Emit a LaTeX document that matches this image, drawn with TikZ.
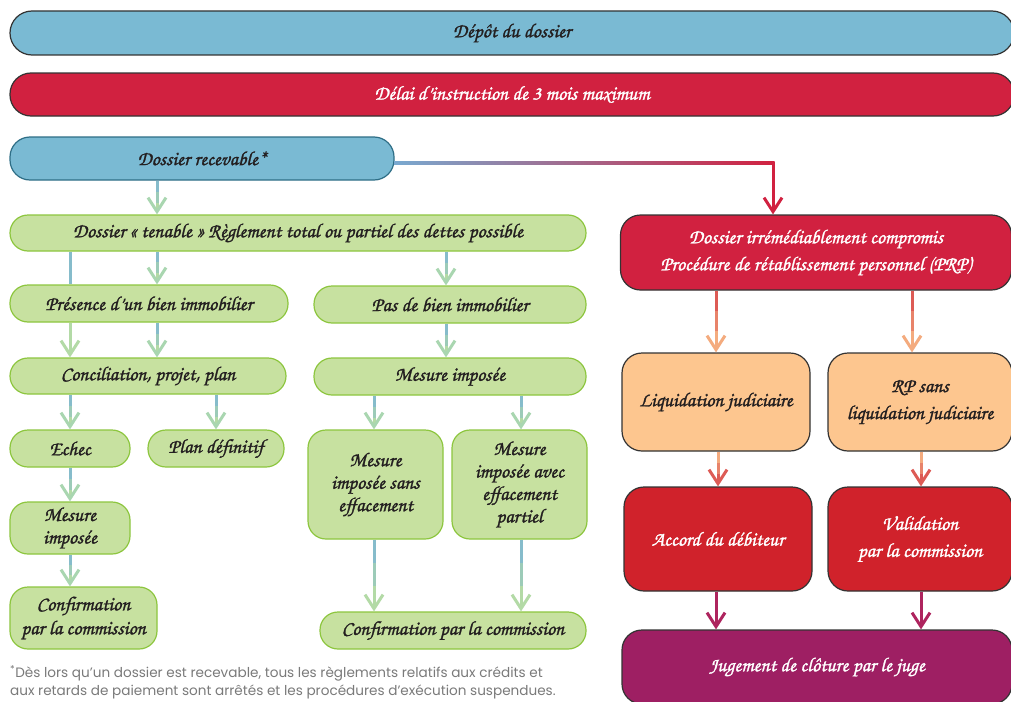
\documentclass[tikz,border=0pt]{standalone}
\usepackage{fontspec}
\setmainfont{texgyrechorus-mediumitalic.otf}[AutoFakeBold=1.3]
\newfontfamily\notefont{Poppins}
\usetikzlibrary{arrows.meta,calc}
\definecolor{ink}{HTML}{231F20}
\definecolor{bluefill}{HTML}{7ABAD3}
\definecolor{blueline}{HTML}{2E6E86}
\definecolor{redfill}{HTML}{D12140}
\definecolor{gfill}{HTML}{C7E1A0}
\definecolor{gline}{HTML}{8DC63F}
\definecolor{ofill}{HTML}{FDC68F}
\definecolor{rfill}{HTML}{D0222B}
\definecolor{pfill}{HTML}{9E1F63}
\definecolor{darkline}{HTML}{333333}
\definecolor{teal}{HTML}{86BCCB}
\definecolor{lgreen}{HTML}{B3DAA6}
\definecolor{hgreen}{HTML}{A9D6B0}
\definecolor{orred}{HTML}{DD5B55}
\definecolor{orlight}{HTML}{F4AB7E}
\definecolor{magarr}{HTML}{AE245E}
\definecolor{notegray}{HTML}{7A7A7A}
\tikzset{
  box/.style={rounded corners=18pt, line width=1.2pt, align=center, inner sep=2pt,
    font=\bfseries\fontsize{20}{22.5}\selectfont, text=ink},
  wide/.style={font=\bfseries\fontsize{20}{27}\selectfont},
  gbox/.style={box, fill=gfill, draw=gline},
  bbox/.style={box, fill=bluefill, draw=darkline},
  rbox/.style={box, fill=redfill, draw=darkline, text=white},
  obox/.style={box, fill=ofill, draw=darkline},
  r2box/.style={box, fill=rfill, draw=darkline, text=white},
  pbox/.style={box, fill=pfill, draw=darkline, text=white},
  shaft/.style={line width=3pt},
  tipv/.style={-{Straight Barb[length=14pt,width=18pt,color=#1]}},
}
\newcommand\fa[6]{%
  \coordinate (fs) at (#1,0 |- #2.south);
  \coordinate (ft) at (#1,0 |- #3.north);
  \draw[shaft,draw=#4] (fs) -- ($(fs)!0.36!(ft)$);
  \draw[shaft,draw=#4!50!#5] ($(fs)!0.33!(ft)$) -- ($(fs)!0.68!(ft)$);
  \draw[shaft,draw=#5,tipv=#6] ($(fs)!0.65!(ft)$) -- (ft);
}
\begin{document}
\begin{tikzpicture}[x=1pt,y=-1pt]
\path[use as bounding box, clip] (0,0) rectangle (1011,701);
\fill[white] (0,0) rectangle (1011,701);
% top bars
\node[bbox, rounded corners=22pt, minimum width=1004pt, minimum height=44pt] (depot) at (512,33) {Dépôt du dossier};
\node[rbox, rounded corners=21pt, minimum width=1004pt, minimum height=43pt, text=white] (delai) at (512,94.5) {Délai d’instruction de 3 mois maximum};
\node[box, fill=bluefill, draw=blueline, rounded corners=20pt, minimum width=384pt, minimum height=43pt] (rec) at (202,158.5) {Dossier recevable*};
% green branch
\node[gbox, minimum width=576pt, minimum height=36pt] (ten) at (298,233) {Dossier « tenable » Règlement total ou partiel des dettes possible};
\node[gbox, minimum width=278pt, minimum height=37pt] (pres) at (149,303.5) {Présence d’un bien immobilier};
\node[gbox, minimum width=272pt, minimum height=37pt] (pas) at (450,304.5) {Pas de bien immobilier};
\node[gbox, minimum width=276pt, minimum height=36pt] (conc) at (148,376) {Conciliation, projet, plan};
\node[gbox, minimum width=272pt, minimum height=37pt] (mes) at (450,376.5) {Mesure imposée};
\node[gbox, minimum width=120pt, minimum height=37pt] (echec) at (70,448.5) {Echec};
\node[gbox, minimum width=136pt, minimum height=37pt] (plan) at (216,448.5) {Plan définitif};
\node[gbox, minimum width=120pt, minimum height=52pt] (mes2) at (70,528) {Mesure\\imposée};
\node[gbox, minimum width=147pt, minimum height=62pt, font=\bfseries\fontsize{20}{24}\selectfont] (conf1) at (83.5,618) {Confirmation\\par la commission};
\node[gbox, minimum width=135pt, minimum height=109pt] (sans) at (375.5,484.5) {Mesure\\imposée sans\\effacement};
\node[gbox, minimum width=135pt, minimum height=109pt] (avec) at (519.5,484.5) {Mesure\\imposée avec\\effacement\\partiel};
\node[gbox, minimum width=266pt, minimum height=37pt] (conf2) at (453,630.5) {Confirmation par la commission};
% red branch
\node[rbox, wide, rounded corners=20pt, minimum width=391pt, minimum height=75pt] (prp) at (816,252.5) {Dossier irrémédiablement compromis\\Procédure de rétablissement personnel (PRP)};
\node[obox, rounded corners=20pt, minimum width=188pt, minimum height=98pt] (liq) at (716,402) {Liquidation judiciaire};
\node[obox, wide, rounded corners=20pt, minimum width=184pt, minimum height=98pt] (rps) at (920,402) {RP sans\\liquidation judiciaire};
\node[r2box, rounded corners=20pt, minimum width=188pt, minimum height=104pt] (acc) at (718,539) {Accord du débiteur};
\node[r2box, wide, rounded corners=20pt, minimum width=184pt, minimum height=104pt] (val) at (920,539) {Validation\\par la commission};
\node[pbox, rounded corners=20pt, minimum width=390pt, minimum height=74pt] (jug) at (817,667) {Jugement de clôture par le juge};
% footnote
\node[anchor=north west, align=left, inner sep=0pt, text=notegray,
  font=\notefont\fontsize{13.6}{18}\selectfont] (note) at (10,665)
  {\textsuperscript{*}Dès lors qu’un dossier est recevable, tous les règlements relatifs aux crédits et\\
   aux retards de paiement sont arrêtés et les procédures d’exécution suspendues.};
% connectors
\draw[shaft, draw=redfill, tipv=redfill] ([yshift=-4.5pt]rec.east) -| (773,0 |- prp.north);
\shade[left color=teal!90!blue, right color=redfill] (394,161.5) rectangle (774.5,164.5);
\fa{157}{rec}{ten}{teal}{lgreen}{hgreen}
\draw[shaft, draw=teal] (70,0 |- ten.south) -- (70,0 |- pres.north);
\fa{157}{ten}{pres}{teal}{lgreen}{hgreen}
\fa{446}{ten}{pas}{teal}{lgreen}{hgreen}
\fa{70}{pres}{conc}{lgreen}{lgreen}{lgreen}
\fa{157}{pres}{conc}{teal}{lgreen}{hgreen}
\fa{446}{pas}{mes}{teal}{lgreen}{hgreen}
\fa{70}{conc}{echec}{teal}{lgreen}{hgreen}
\fa{216}{conc}{plan}{teal}{lgreen}{hgreen}
\fa{374}{mes}{sans}{teal}{lgreen}{hgreen}
\fa{521}{mes}{avec}{teal}{lgreen}{hgreen}
\fa{70}{echec}{mes2}{teal}{lgreen}{hgreen}
\fa{70}{mes2}{conf1}{teal}{lgreen}{hgreen}
\fa{374}{sans}{conf2}{teal}{lgreen}{lgreen}
\fa{521}{avec}{conf2}{teal}{lgreen}{lgreen}
\fa{716}{prp}{liq}{orred}{orlight}{orlight}
\fa{912}{prp}{rps}{orred}{orlight}{orlight}
\fa{718}{liq}{acc}{orlight}{orred}{orred}
\fa{921}{rps}{val}{orlight}{orred}{orred}
\fa{716}{acc}{jug}{magarr}{magarr}{magarr}
\fa{921}{val}{jug}{magarr}{magarr}{magarr}
\end{tikzpicture}
\end{document}
